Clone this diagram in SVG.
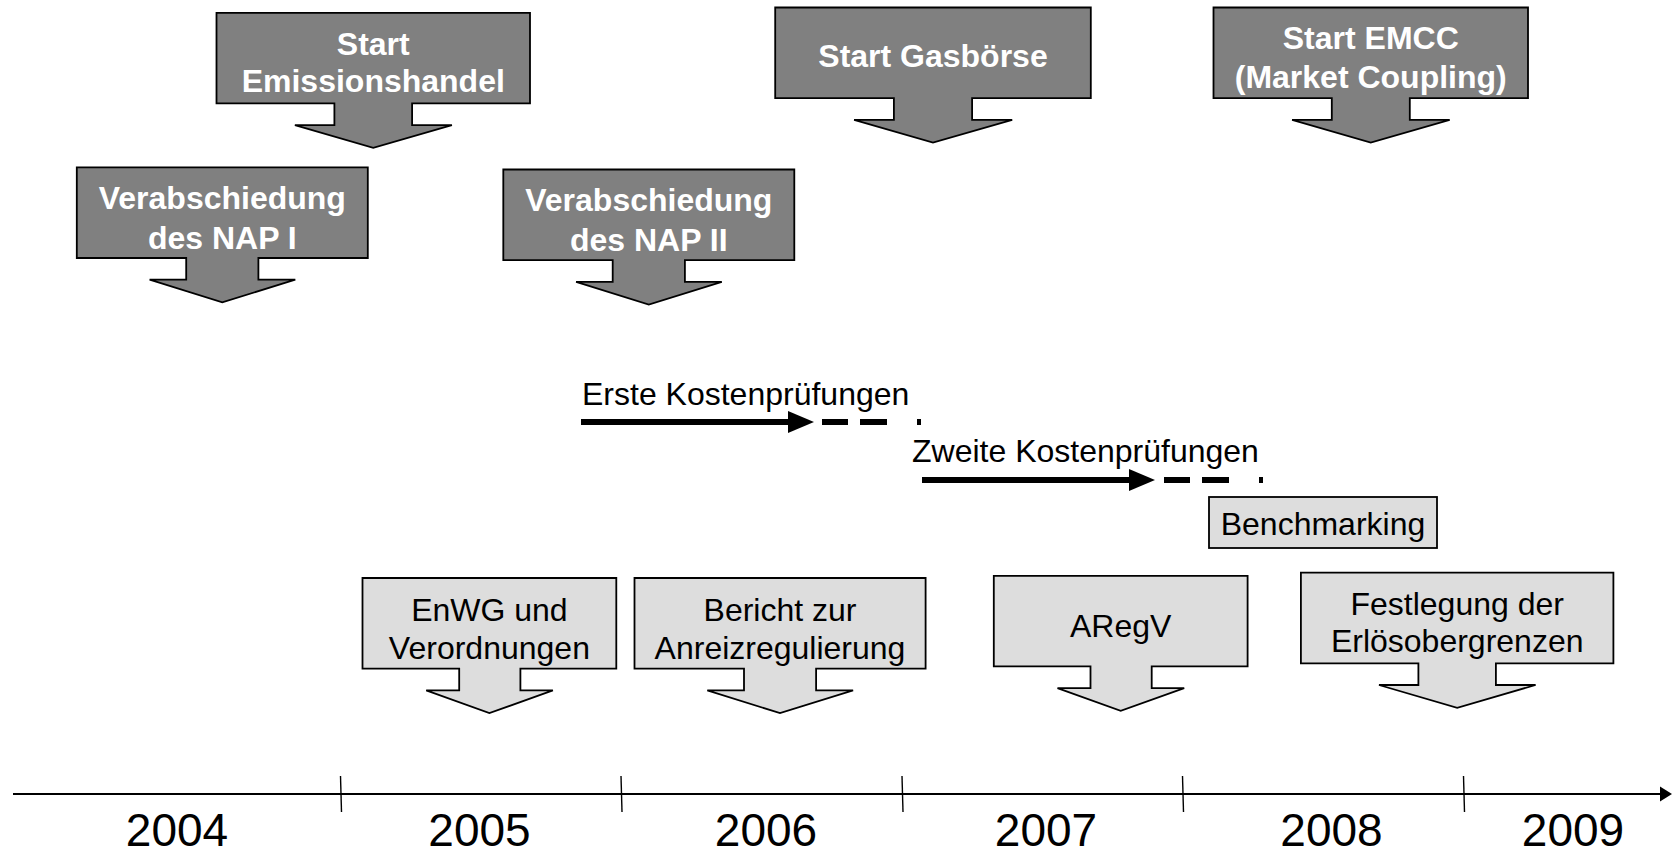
<svg xmlns="http://www.w3.org/2000/svg" width="1672" height="856" viewBox="0 0 1672 856">
<style>
.dark{fill:#808080;stroke:#000;stroke-width:1.8;stroke-linejoin:miter}
.light{fill:#DDDDDD;stroke:#000;stroke-width:1.8;stroke-linejoin:miter}
.wt{font-family:"Liberation Sans",Arial,sans-serif;font-weight:bold;font-size:32px;fill:#fff;text-anchor:middle}
.bt{font-family:"Liberation Sans",Arial,sans-serif;font-size:32px;fill:#000;text-anchor:middle}
.lt{font-family:"Liberation Sans",Arial,sans-serif;font-size:32px;fill:#000}
.yr{font-family:"Liberation Sans",Arial,sans-serif;font-size:46px;fill:#000;text-anchor:middle}
.thick{stroke:#000;stroke-width:6;fill:none}
.axis{stroke:#000;stroke-width:2.2;fill:none}
.tick{stroke:#000;stroke-width:1.4;fill:none}
</style>
<rect width="1672" height="856" fill="#fff"/>

<g id="start-emissionshandel">
<path class="dark" d="M216.5,12.8 H530 V103.4 H412.1 V125.1 H451.9 L373.25,147.8 L294.9,125.1 H334.4 V103.4 H216.5 Z"/>
<text class="wt" x="373.25" y="54.5">Start</text>
<text class="wt" x="373.25" y="92">Emissionshandel</text>
</g>

<g id="nap1">
<path class="dark" d="M76.8,167.4 H367.8 V258 H258.4 V279.7 H295.3 L222.3,302.4 L149.6,279.7 H186.2 V258 H76.8 Z"/>
<text class="wt" x="222.3" y="209">Verabschiedung</text>
<text class="wt" x="222.3" y="249">des NAP I</text>
</g>

<g id="nap2">
<path class="dark" d="M503.3,169.5 H794.3 V260.1 H684.9 V281.8 H721.8 L648.8,304.5 L576.1,281.8 H612.7 V260.1 H503.3 Z"/>
<text class="wt" x="648.8" y="211">Verabschiedung</text>
<text class="wt" x="648.8" y="250.5">des NAP II</text>
</g>

<g id="gasboerse">
<path class="dark" d="M775.2,7.5 H1090.8 V98.1 H972.1 V119.8 H1012.2 L933,142.5 L854.1,119.8 H893.9 V98.1 H775.2 Z"/>
<text class="wt" x="933" y="67">Start Gasbörse</text>
</g>

<g id="emcc">
<path class="dark" d="M1213.5,7.5 H1528 V98.1 H1409.8 V119.8 H1449.7 L1370.75,142.5 L1292.1,119.8 H1331.8 V98.1 H1213.5 Z"/>
<text class="wt" x="1370.75" y="49">Start EMCC</text>
<text class="wt" x="1370.75" y="88">(Market Coupling)</text>
</g>

<g id="enwg">
<path class="light" d="M362.5,578 H616.3 V668.6 H520.4 V690.3 H552.9 L489.4,713.1 L426.2,690.3 H459.2 V668.6 H362.5 Z"/>
<text class="bt" x="489.4" y="621">EnWG und</text>
<text class="bt" x="489.4" y="659">Verordnungen</text>
</g>

<g id="bericht">
<path class="light" d="M634.5,578 H925.6 V668.6 H816.1 V690.3 H853.1 L780,713.1 L707.3,690.3 H744 V668.6 H634.5 Z"/>
<text class="bt" x="780" y="621">Bericht zur</text>
<text class="bt" x="780" y="659">Anreizregulierung</text>
</g>

<g id="aregv">
<path class="light" d="M993.8,575.8 H1247.6 V666.4 H1151.7 V688.1 H1184.2 L1120.7,710.9 L1057.5,688.1 H1090.5 V666.4 H993.8 Z"/>
<text class="bt" x="1120.7" y="637">ARegV</text>
</g>

<g id="festlegung">
<path class="light" d="M1300.9,572.6 H1613.4 V663.3 H1495.9 V685 H1535.6 L1457.2,707.8 L1379,685 H1418.4 V663.3 H1300.9 Z"/>
<text class="bt" x="1457.2" y="615">Festlegung der</text>
<text class="bt" x="1457.2" y="652">Erlösobergrenzen</text>
</g>

<g id="benchmarking">
<rect class="light" x="1209" y="497" width="228" height="51"/>
<text class="bt" x="1323" y="535">Benchmarking</text>
</g>

<g id="erste-kostenpruefungen">
<text class="lt" x="582" y="405">Erste Kostenprüfungen</text>
</g>

<g id="zweite-kostenpruefungen">
<text class="lt" x="912" y="462">Zweite Kostenprüfungen</text>
</g>

<g id="connectors">
<line class="thick" x1="581" y1="422" x2="792" y2="422"/>
<polygon points="788,411 814,422 788,433" fill="#000"/>
<path class="thick" d="M822,422 H848 M860,422 H887 M917,422 H921"/>
<line class="thick" x1="922" y1="480" x2="1133" y2="480"/>
<polygon points="1129,469 1155,480 1129,491" fill="#000"/>
<path class="thick" d="M1164,480 H1190 M1202,480 H1229 M1259,480 H1263"/>

<line class="axis" x1="13" y1="794" x2="1662" y2="794"/>
<polygon points="1660,786.5 1672,794 1660,801.5" fill="#000"/>
<line class="tick" x1="340.5" y1="776" x2="341.5" y2="812"/>
<line class="tick" x1="621" y1="776" x2="622" y2="812"/>
<line class="tick" x1="902" y1="776" x2="903" y2="812"/>
<line class="tick" x1="1182.5" y1="776" x2="1183.5" y2="812"/>
<line class="tick" x1="1463.5" y1="776" x2="1464.5" y2="812"/>
</g>

<g id="years">
<text class="yr" x="177" y="846">2004</text>
<text class="yr" x="479.5" y="846">2005</text>
<text class="yr" x="766" y="846">2006</text>
<text class="yr" x="1046" y="846">2007</text>
<text class="yr" x="1331.5" y="846">2008</text>
<text class="yr" x="1573" y="846">2009</text>
</g>
</svg>
